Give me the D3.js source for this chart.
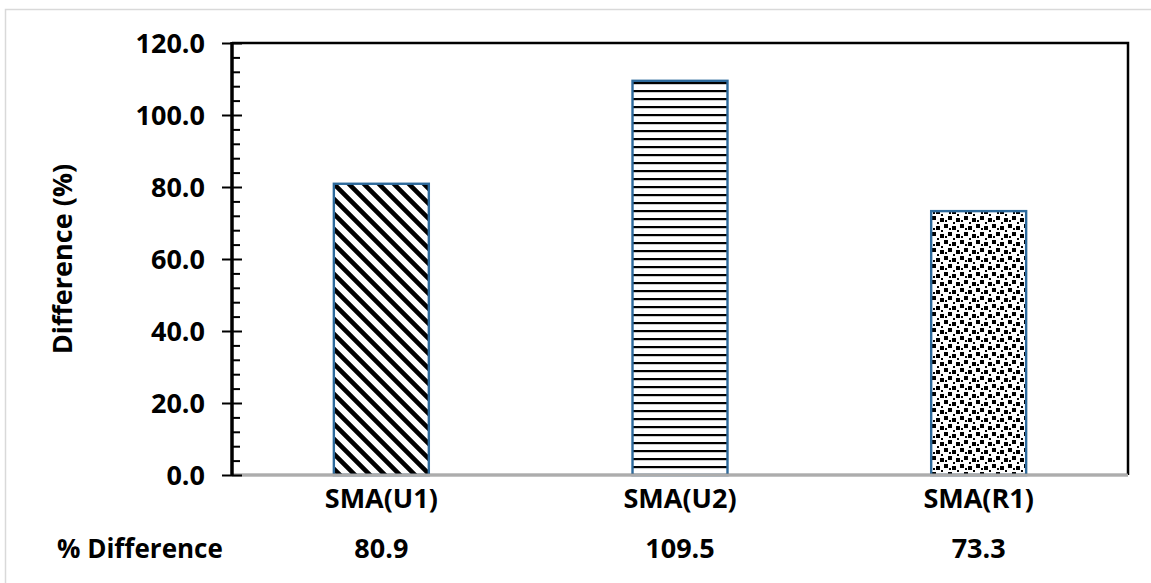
<!DOCTYPE html>
<html>
<head>
<meta charset="utf-8">
<script src="https://cdn.jsdelivr.net/npm/d3@7"></script>
<style>
  body { margin: 0; background: #fff; }
  text { font-family: "Open Sans", "Liberation Sans", sans-serif; font-weight: 700; fill: #000; }
</style>
</head>
<body>
<svg id="chart"></svg>
<script>
const categories = ['SMA(U1)', 'SMA(U2)', 'SMA(R1)'];
const values = [80.9, 109.5, 73.3];
const fills = ['diag', 'horiz', 'confetti'];
const yTicks = [0, 20, 40, 60, 80, 100, 120];
const yMinorTicks = d3.range(0, 121, 4);
const rowLabel = '% Difference';
const yTitle = 'Difference (%)';

const W = 1151, H = 583;
const plot = { left: 232, right: 1128, top: 43, bottom: 475 };

const svg = d3.select('#chart').attr('width', W).attr('height', H);

// outer frame
svg.append('rect')
    .attr('x', 5.5).attr('y', 9.5).attr('width', W + 20).attr('height', H + 20)
    .attr('fill', 'none').attr('stroke', '#d9d9d9').attr('stroke-width', 1.5);

// fill patterns
const defs = svg.append('defs');
const diag = defs.append('pattern').attr('id', 'diag')
    .attr('patternUnits', 'userSpaceOnUse').attr('width', 15).attr('height', 15);
diag.append('rect').attr('width', 15).attr('height', 15).attr('fill', '#fff');
diag.append('path').attr('d', 'M-4,-4L19,19M-4,11L4,19M11,-4L19,4')
    .attr('stroke', '#000').attr('stroke-width', 4.6);

const horiz = defs.append('pattern').attr('id', 'horiz')
    .attr('patternUnits', 'userSpaceOnUse').attr('width', 8).attr('height', 8);
horiz.append('rect').attr('width', 8).attr('height', 8).attr('fill', '#fff');
horiz.append('rect').attr('y', 2).attr('width', 8).attr('height', 2.2).attr('fill', '#000');

const conf = defs.append('pattern').attr('id', 'confetti')
    .attr('patternUnits', 'userSpaceOnUse').attr('width', 16).attr('height', 16);
conf.append('rect').attr('width', 16).attr('height', 16).attr('fill', '#fff');
[[0, 0, 4], [8, 2, 4], [4, 8, 4], [12, 10, 4], [5, 4, 2], [13, 6, 2], [1, 12, 2], [9, 14, 2]].forEach(([x, y, s]) => {
    conf.append('rect').attr('x', x).attr('y', y).attr('width', s).attr('height', s).attr('fill', '#000');
});

const x = d3.scaleBand().domain(categories).range([plot.left, plot.right])
    .paddingInner(0.682).paddingOuter(0.341);
const y = d3.scaleLinear().domain([0, 120]).range([plot.bottom, plot.top]);

// plot frame (top and right)
svg.append('path')
    .attr('d', `M${plot.left},${plot.top}H${plot.right}V${plot.bottom}`)
    .attr('fill', 'none').attr('stroke', '#000').attr('stroke-width', 2.5);

// bars
svg.selectAll('.bar')
    .data(categories.map((c, i) => ({ c, v: values[i], f: fills[i] })))
    .enter().append('rect')
    .attr('class', 'bar')
    .attr('x', d => x(d.c))
    .attr('width', x.bandwidth())
    .attr('y', d => y(d.v))
    .attr('height', d => y(0) - y(d.v))
    .attr('fill', d => `url(#${d.f})`)
    .attr('stroke', '#2d6a9c').attr('stroke-width', 2.4);

// bottom axis (gray double line)
svg.append('line').attr('x1', plot.left).attr('x2', plot.right)
    .attr('y1', plot.bottom).attr('y2', plot.bottom)
    .attr('stroke', '#8a8a8a').attr('stroke-width', 3);
svg.append('line').attr('x1', plot.left).attr('x2', plot.right)
    .attr('y1', plot.bottom).attr('y2', plot.bottom)
    .attr('stroke', '#cfcfcf').attr('stroke-width', 1);

// y axis: outer major ticks with labels
const yAxis = svg.append('g').attr('transform', `translate(${plot.left},0)`)
    .call(d3.axisLeft(y).tickValues(yTicks).tickSize(10).tickPadding(17).tickFormat(d3.format('.1f')));
yAxis.select('.domain').remove();
yAxis.selectAll('line').attr('stroke', '#000').attr('stroke-width', 2);
yAxis.selectAll('text').attr('font-size', '27px').attr('dy', '0.36em')
    .style('font-family', '"Open Sans", sans-serif').style('font-weight', 700);

// inner parts of major ticks and minor ticks
const yIn = svg.append('g').attr('transform', `translate(${plot.left},0)`)
    .call(d3.axisRight(y).tickValues(yTicks).tickSize(10).tickFormat(''));
yIn.select('.domain').remove();
yIn.selectAll('line').attr('stroke', '#000').attr('stroke-width', 2);
const yMinor = svg.append('g').attr('transform', `translate(${plot.left},0)`)
    .call(d3.axisRight(y).tickValues(yMinorTicks.filter(v => v % 20 !== 0)).tickSize(8).tickFormat(''));
yMinor.select('.domain').remove();
yMinor.selectAll('line').attr('stroke', '#000').attr('stroke-width', 2);

svg.append('line').attr('x1', plot.left).attr('x2', plot.left)
    .attr('y1', plot.top - 1).attr('y2', plot.bottom + 1)
    .attr('stroke', '#000').attr('stroke-width', 3.5);

// y title
svg.append('text')
    .attr('transform', `translate(72,${(plot.top + plot.bottom) / 2}) rotate(-90)`)
    .attr('text-anchor', 'middle').attr('font-size', '27px')
    .text(yTitle);

// category labels
svg.selectAll('.cat')
    .data(categories).enter().append('text')
    .attr('x', d => x(d) + x.bandwidth() / 2).attr('y', 508)
    .attr('text-anchor', 'middle').attr('font-size', '27px')
    .text(d => d);

// value row
svg.append('text').attr('x', 57).attr('y', 558).attr('font-size', '26px').text(rowLabel);
svg.selectAll('.val')
    .data(categories).enter().append('text')
    .attr('x', (d, i) => x(d) + x.bandwidth() / 2).attr('y', 558)
    .attr('text-anchor', 'middle').attr('font-size', '27px')
    .text((d, i) => d3.format('.1f')(values[i]));
</script>
</body>
</html>
